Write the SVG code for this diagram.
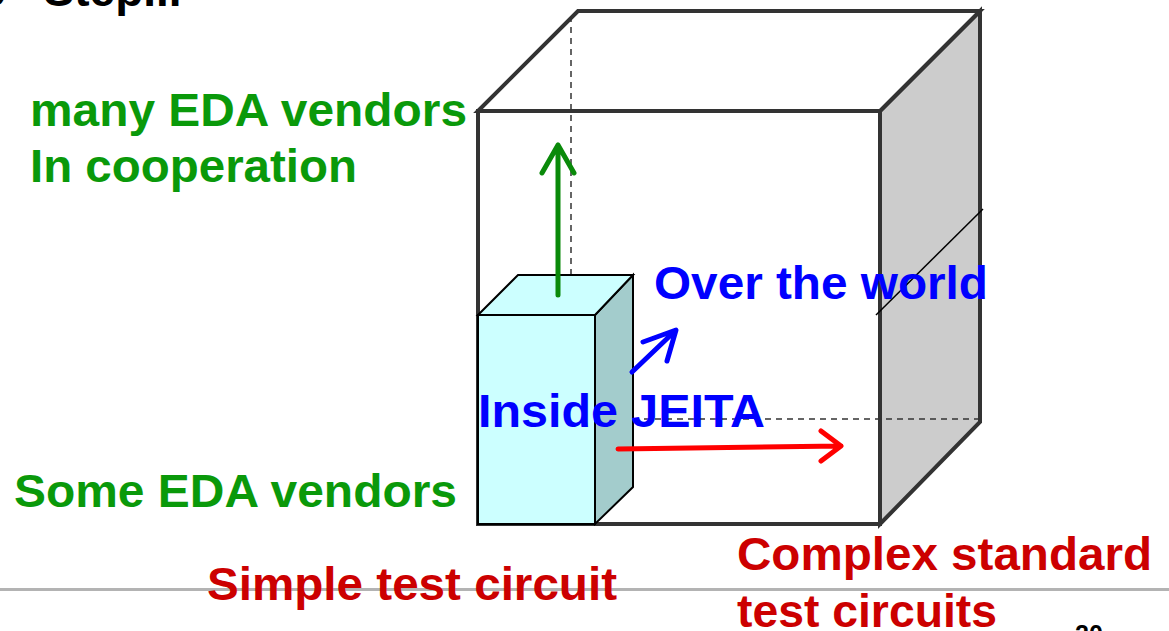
<svg xmlns="http://www.w3.org/2000/svg" width="1169" height="631" viewBox="0 0 1169 631">
<style>
.t{font-family:"Liberation Sans",Arial,sans-serif;font-weight:bold;font-size:46px}
.g{fill:#0a990a}.b{fill:#0000ff}.r{fill:#cc0000}
.edge{stroke:#333333;stroke-width:4;stroke-linejoin:miter}
.dash{stroke:#333333;stroke-width:1.5;stroke-dasharray:6 5;fill:none}
.box{stroke:#000000;stroke-width:2;stroke-linejoin:miter}
.arr{fill:none;stroke-width:5;stroke-linecap:round;stroke-linejoin:round}
</style>
<rect width="1169" height="631" fill="#ffffff"/>
<text class="t" x="-20" y="6" fill="#000000" style="font-size:46px">e<tspan dx="38">Step...</tspan></text>
<line x1="0" y1="589.5" x2="1169" y2="589.5" stroke="#b3b3b3" stroke-width="3"/>
<g id="big-cube">
<polygon class="edge" points="880,111 980,11 980,422 880,524" fill="#cccccc"/>
<polygon class="edge" points="478,111 578,11 980,11 880,111" fill="#ffffff"/>
<rect class="edge" x="478" y="111" width="402" height="413" fill="#ffffff"/>
<line class="dash" x1="571" y1="16" x2="571" y2="275"/>
<line class="dash" x1="633" y1="419" x2="980" y2="419"/>
<line x1="876" y1="315" x2="983" y2="209" stroke="#000000" stroke-width="1.5"/>
</g>
<g id="small-box">
<polygon class="box" points="595,315 633,275 633,487 595,524" fill="#a3cccc"/>
<polygon class="box" points="478,315 518,275 633,275 595,315" fill="#ccffff"/>
<rect class="box" x="478" y="315" width="117" height="209" fill="#ccffff"/>
</g>
<g id="connectors">
<path class="arr" stroke="#0a8a0a" d="M558,295 L558,145 M542,173 L558,145 L574,173"/>
<path class="arr" stroke="#0000ff" d="M632,372 L675,331 M643,342 L676,330 L667,361"/>
<path class="arr" stroke="#ff0000" d="M618,449 L841,446 M821,431 L841,446 L821,461"/>
</g>
<g id="labels">
<text class="t g" x="30" y="126" textLength="437" lengthAdjust="spacingAndGlyphs">many EDA vendors</text>
<text class="t g" x="30" y="182" textLength="327" lengthAdjust="spacingAndGlyphs">In cooperation</text>
<text class="t g" x="14" y="507" textLength="443" lengthAdjust="spacingAndGlyphs">Some EDA vendors</text>
<text class="t b" x="654" y="299" textLength="334" lengthAdjust="spacingAndGlyphs">Over the world</text>
<text class="t b" x="478" y="427" textLength="287" lengthAdjust="spacingAndGlyphs">Inside JEITA</text>
<text class="t r" x="207" y="600" textLength="410" lengthAdjust="spacingAndGlyphs">Simple test circuit</text>
<text class="t r" x="737" y="570" textLength="415" lengthAdjust="spacingAndGlyphs">Complex standard</text>
<text class="t r" x="737" y="627" textLength="260" lengthAdjust="spacingAndGlyphs">test circuits</text>
<text x="1075" y="643" font-family="Liberation Sans,Arial,sans-serif" font-weight="bold" font-size="25" fill="#000000">20</text>
</g>
</svg>
